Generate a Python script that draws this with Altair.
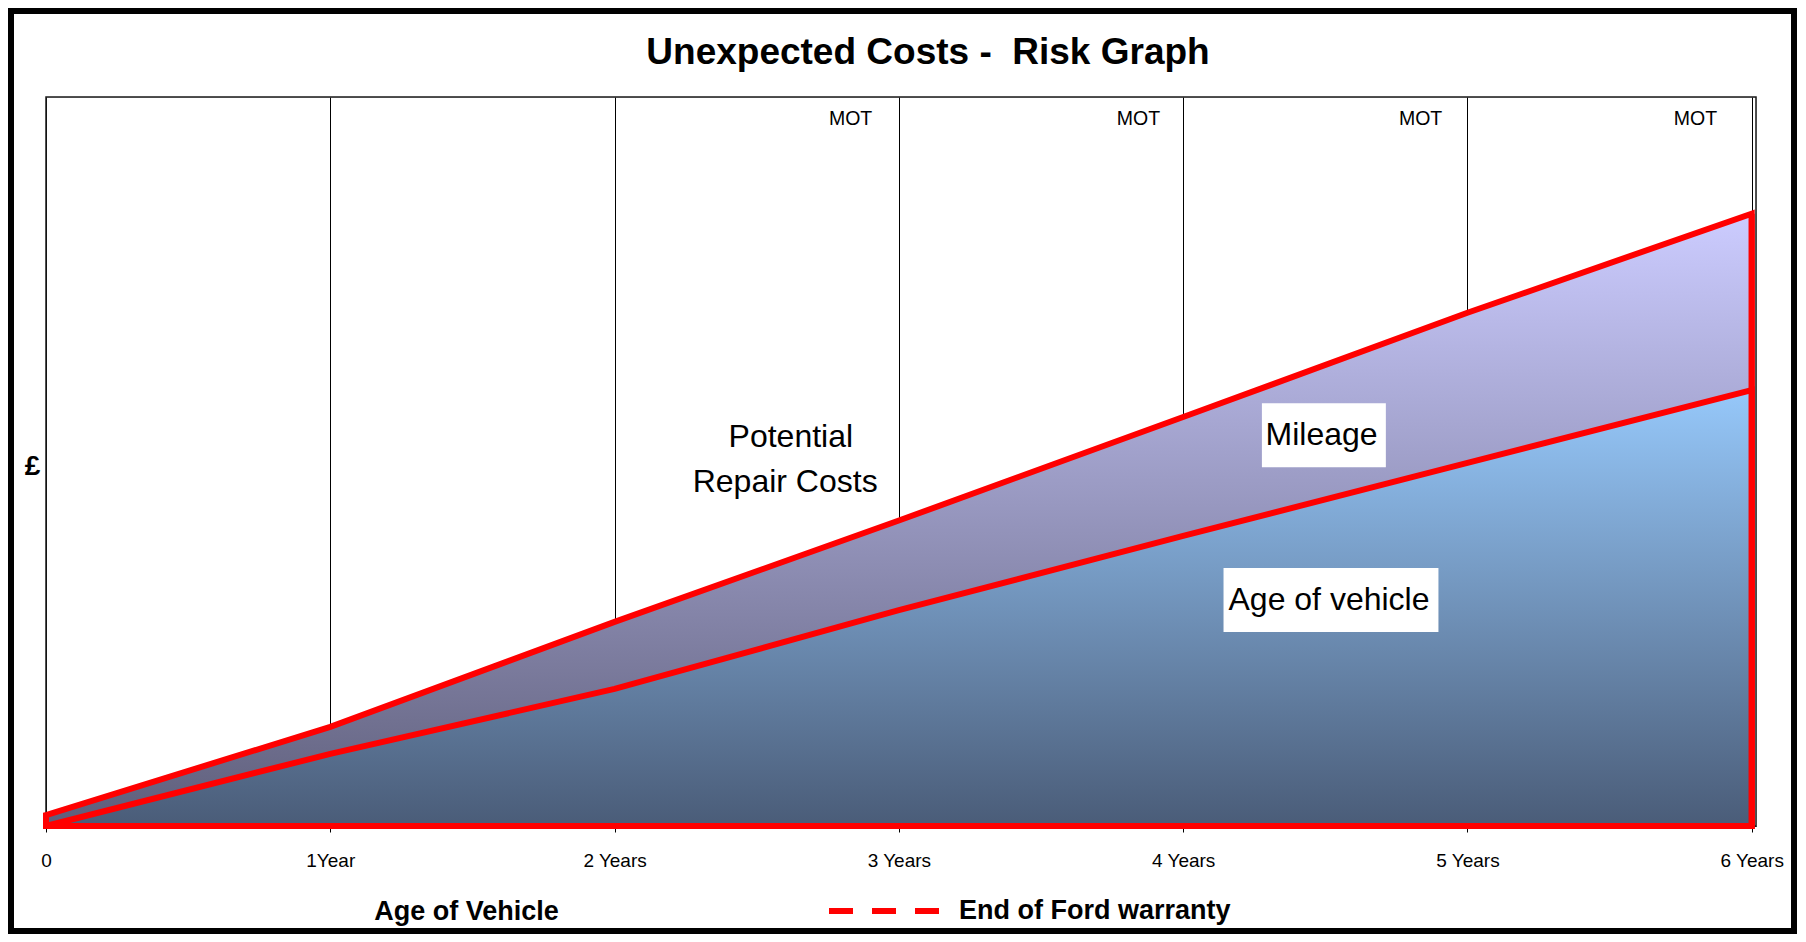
import altair as alt
import pandas as pd

# ---------------- data ----------------
years = [0, 1, 2, 3, 4, 5, 6]
age_cost = [0.0, 9.9, 18.8, 29.6, 39.8, 49.8, 59.8]
total_cost = [1.5, 13.6, 28.0, 41.9, 56.1, 70.4, 84.0]
tick_labels = ["0", "1Year", "2 Years", "3 Years", "4 Years", "5 Years", "6 Years"]

mot_text = ["MOT", "MOT", "MOT", "MOT"]
mot_x = [2.83, 3.843, 4.835, 5.802]
mot_y = [96.1, 96.1, 96.1, 96.1]

note_text = ["Potential", "Repair Costs"]
note_x = [2.62, 2.60]
note_y = [52.0, 45.8]

box_text = ["Mileage", "Age of vehicle"]
box_cx = [4.487, 4.513]
box_ty = [52.3, 29.6]
box_x1 = [4.277, 4.142]
box_x2 = [4.713, 4.898]
box_y1 = [49.2, 26.6]
box_y2 = [58.0, 35.4]

chart_title = "Unexpected Costs - \u00a0Risk Graph"
warranty_label = "End of Ford warranty"

SANS = "Liberation Sans, Arial"

# ---------------- tables ----------------
curve = pd.DataFrame({"year": years, "age": age_cost, "total": total_cost})
mot_df = pd.DataFrame({"t": mot_text, "x": mot_x, "y": mot_y})
note_df = pd.DataFrame({"t": note_text, "x": note_x, "y": note_y})
box_df = pd.DataFrame({"t": box_text, "cx": box_cx, "ty": box_ty,
                       "x1": box_x1, "x2": box_x2, "y1": box_y1, "y2": box_y2})
warr_df = pd.DataFrame({"year": [years[-1]], "top": [total_cost[-1]],
                        "label": [warranty_label]})
title_df = pd.DataFrame({"t": [chart_title]})
dummy = pd.DataFrame({"k": [0]})

label_expr = "[" + ",".join('"%s"' % s for s in tick_labels) + "][round(datum.value)]"

xscale = alt.Scale(domain=[0, 6.015], nice=False, zero=False)
yscale = alt.Scale(domain=[0, 100], nice=False)

x_axis = alt.Axis(
    values=years, labelExpr=label_expr, grid=True, gridColor="#000000", gridWidth=1,
    ticks=True, tickColor="#000000", tickSize=6, tickWidth=1,
    domain=True, domainColor="#000000", labelFlush=False, labelOverlap=False,
    labelFont=SANS, labelFontSize=19, labelColor="#000000", labelPadding=19,
    labelAngle=0, title="Age of Vehicle", titleFont=SANS, titleFontSize=27,
    titleFontWeight="bold", titleColor="#000000", titleX=420, titleY=93,
    titleAlign="center", titleBaseline="alphabetic",
)
y_axis = alt.Axis(
    labels=False, ticks=False, grid=False, domain=False, title="£",
    titleAngle=0, titleFont=SANS, titleFontSize=28, titleFontWeight="bold",
    titleColor="#000000", titleX=-14, titleY=369, titleAlign="center",
    titleBaseline="middle",
)

frame = alt.Chart(dummy).mark_rect(filled=False, stroke="#000000", strokeWidth=6).encode(
    x=alt.value(-35), x2=alt.value(1748), y=alt.value(-86), y2=alt.value(834)
)
plot_border = alt.Chart(dummy).mark_rect(filled=False, stroke="#1a1a1a", strokeWidth=1.5).encode(
    x=alt.value(0), x2=alt.value(1710), y=alt.value(0), y2=alt.value(729)
)

title = alt.Chart(title_df).mark_text(
    font=SANS, fontSize=37, fontWeight="bold", color="#000000",
    align="center", baseline="alphabetic"
).encode(x=alt.value(882), y=alt.value(-33), text="t:N")

mileage_grad = alt.Gradient(
    gradient="linear",
    stops=[alt.GradientStop(color="#5e5e7a", offset=0),
           alt.GradientStop(color="#ccccff", offset=1)],
    x1=0, x2=0, y1=1, y2=0,
)
age_grad = alt.Gradient(
    gradient="linear",
    stops=[alt.GradientStop(color="#4a5c78", offset=0),
           alt.GradientStop(color="#96c8fa", offset=1)],
    x1=0, x2=0, y1=1, y2=0,
)

mileage = alt.Chart(curve).mark_area(
    fill=mileage_grad, stroke="#ff0000", strokeWidth=6, strokeJoin="miter"
).encode(
    x=alt.X("year:Q", scale=xscale, axis=x_axis),
    y=alt.Y("total:Q", scale=yscale, axis=y_axis),
)
age = alt.Chart(curve).mark_area(
    fill=age_grad, stroke="#ff0000", strokeWidth=6, strokeJoin="miter"
).encode(
    x=alt.X("year:Q", scale=xscale),
    y=alt.Y("age:Q", scale=yscale),
)

warranty = alt.Chart(warr_df).mark_rule(strokeWidth=6).encode(
    x=alt.X("year:Q", scale=xscale),
    y=alt.Y("top:Q", scale=yscale),
    y2=alt.datum(0),
    color=alt.Color(
        "label:N",
        scale=alt.Scale(domain=[warranty_label], range=["#ff0000"]),
        legend=alt.Legend(
            title=None, orient="none", legendX=780, legendY=756,
            symbolType="stroke", symbolSize=12100, symbolStrokeWidth=6,
            symbolDash=[24, 19], labelFont=SANS, labelFontSize=27,
            labelFontWeight="bold", labelColor="#000000", labelOffset=17,
            labelLimit=600, padding=0,
        ),
    ),
)

boxes = alt.Chart(box_df).mark_rect(color="#ffffff").encode(
    x=alt.X("x1:Q", scale=xscale), x2="x2:Q",
    y=alt.Y("y1:Q", scale=yscale), y2="y2:Q",
)
box_labels = alt.Chart(box_df).mark_text(
    font=SANS, fontSize=32, color="#000000", align="center", baseline="alphabetic"
).encode(
    x=alt.X("cx:Q", scale=xscale), y=alt.Y("ty:Q", scale=yscale), text="t:N"
)
notes = alt.Chart(note_df).mark_text(
    font=SANS, fontSize=32, color="#000000", align="center", baseline="alphabetic"
).encode(
    x=alt.X("x:Q", scale=xscale), y=alt.Y("y:Q", scale=yscale), text="t:N"
)
mots = alt.Chart(mot_df).mark_text(
    font=SANS, fontSize=19.5, color="#000000", align="center", baseline="alphabetic"
).encode(
    x=alt.X("x:Q", scale=xscale), y=alt.Y("y:Q", scale=yscale), text="t:N"
)

chart = alt.layer(
    frame, plot_border, title, mileage, age, warranty, boxes, box_labels, notes, mots
).properties(
    width=1710, height=729,
    autosize=alt.AutoSizeParams(type="none"),
    padding={"left": 38, "top": 89, "right": 42, "bottom": 108},
).configure_view(
    stroke="#000000", strokeWidth=2
).configure(
    background="#ffffff"
)

chart.save("out.html", embed_options={"renderer": "svg", "actions": False})
